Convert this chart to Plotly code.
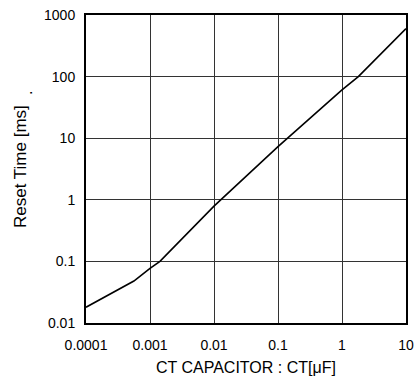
import plotly.graph_objects as go

# Data (log-log curve)
ct_uF = [0.0001, 0.00056, 0.001, 0.00143, 0.01, 0.1, 1, 1.8, 10]
reset_ms = [0.018, 0.048, 0.077, 0.1, 0.79, 7.3, 61, 100, 600]

x_tickvals = [0.0001, 0.001, 0.01, 0.1, 1, 10]
x_ticktext = ["0.0001", "0.001", "0.01", "0.1", "1", "10"]
y_tickvals = [0.01, 0.1, 1, 10, 100, 1000]
y_ticktext = ["0.01", "0.1", "1", "10", "100", "1000"]

FONT = "Arial, Liberation Sans, sans-serif"

fig = go.Figure()
fig.add_trace(go.Scatter(x=ct_uF, y=reset_ms, mode="lines",
                         line=dict(color="black", width=1.6),
                         showlegend=False, hoverinfo="skip"))

axis_common = dict(type="log", showline=True, mirror=True, linecolor="black",
                   linewidth=2, showgrid=True, gridcolor="#333333", gridwidth=1,
                   zeroline=False, ticks="", automargin=False,
                   tickfont=dict(family=FONT, size=14, color="black"))

fig.update_xaxes(range=[-4, 1], tickvals=x_tickvals, ticktext=x_ticktext,
                 ticklabelstandoff=8, **axis_common)
fig.update_yaxes(range=[-2, 3], tickvals=y_tickvals, ticktext=y_ticktext,
                 ticklabelstandoff=6, **axis_common)

fig.add_annotation(text="CT CAPACITOR : CT[μF]", xref="paper", yref="paper",
                   x=0.5, y=(323 - 367) / 308, xanchor="center", yanchor="middle",
                   showarrow=False, font=dict(family=FONT, size=16, color="black"))
fig.add_annotation(text="Reset Time [ms]", xref="paper", yref="paper",
                   x=(20 - 86) / 320, y=(323 - 167) / 308, xanchor="center", yanchor="middle",
                   textangle=-90, showarrow=False, font=dict(family=FONT, size=17, color="black"))
fig.add_annotation(text=".", xref="paper", yref="paper",
                   x=(26 - 86) / 320, y=(323 - 93) / 308, xanchor="center", yanchor="middle",
                   textangle=-90, showarrow=False, font=dict(family=FONT, size=16, color="black"))

fig.update_layout(width=415, height=388, margin=dict(l=86, r=9, t=15, b=65),
                  paper_bgcolor="white", plot_bgcolor="white",
                  font=dict(family=FONT, color="black"))

fig.write_html("out.html")
